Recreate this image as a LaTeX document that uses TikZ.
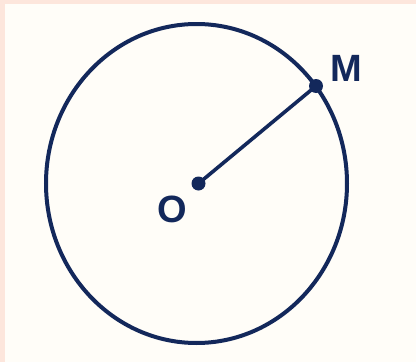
\documentclass[tikz,border=0pt]{standalone}
\usepackage{fontspec}
\setmainfont{Liberation Sans}
\definecolor{navy}{HTML}{13285B}
\definecolor{cream}{HTML}{FFFDF8}
\definecolor{blush}{HTML}{FDE6DC}
\begin{document}
\begin{tikzpicture}[x=1pt,y=-1pt,
  curve/.style={draw=navy,line width=4pt},
  dotpt/.style={circle,fill=navy,inner sep=0pt,minimum size=14pt},
  lbl/.style={text=navy,font=\fontsize{38}{38}\selectfont\bfseries,inner sep=0pt}]
\useasboundingbox (0,0) rectangle (416,362);
\fill[blush] (0,0) rectangle (416,362);
\fill[cream] (5,4) rectangle (416,362);
\draw[curve] (196.5,183.5) ellipse [x radius=150.5pt, y radius=159.5pt];
\node[dotpt] (O) at (198.5,183.5) {};
\node[dotpt] (M) at (316,86) {};
\draw[navy,line width=3.6pt] (O.center) -- (M.center);
\node[lbl] (Ol) at (172,209.5) {O};
\node[lbl] (Ml) at (346,68) {M};
\end{tikzpicture}
\end{document}
